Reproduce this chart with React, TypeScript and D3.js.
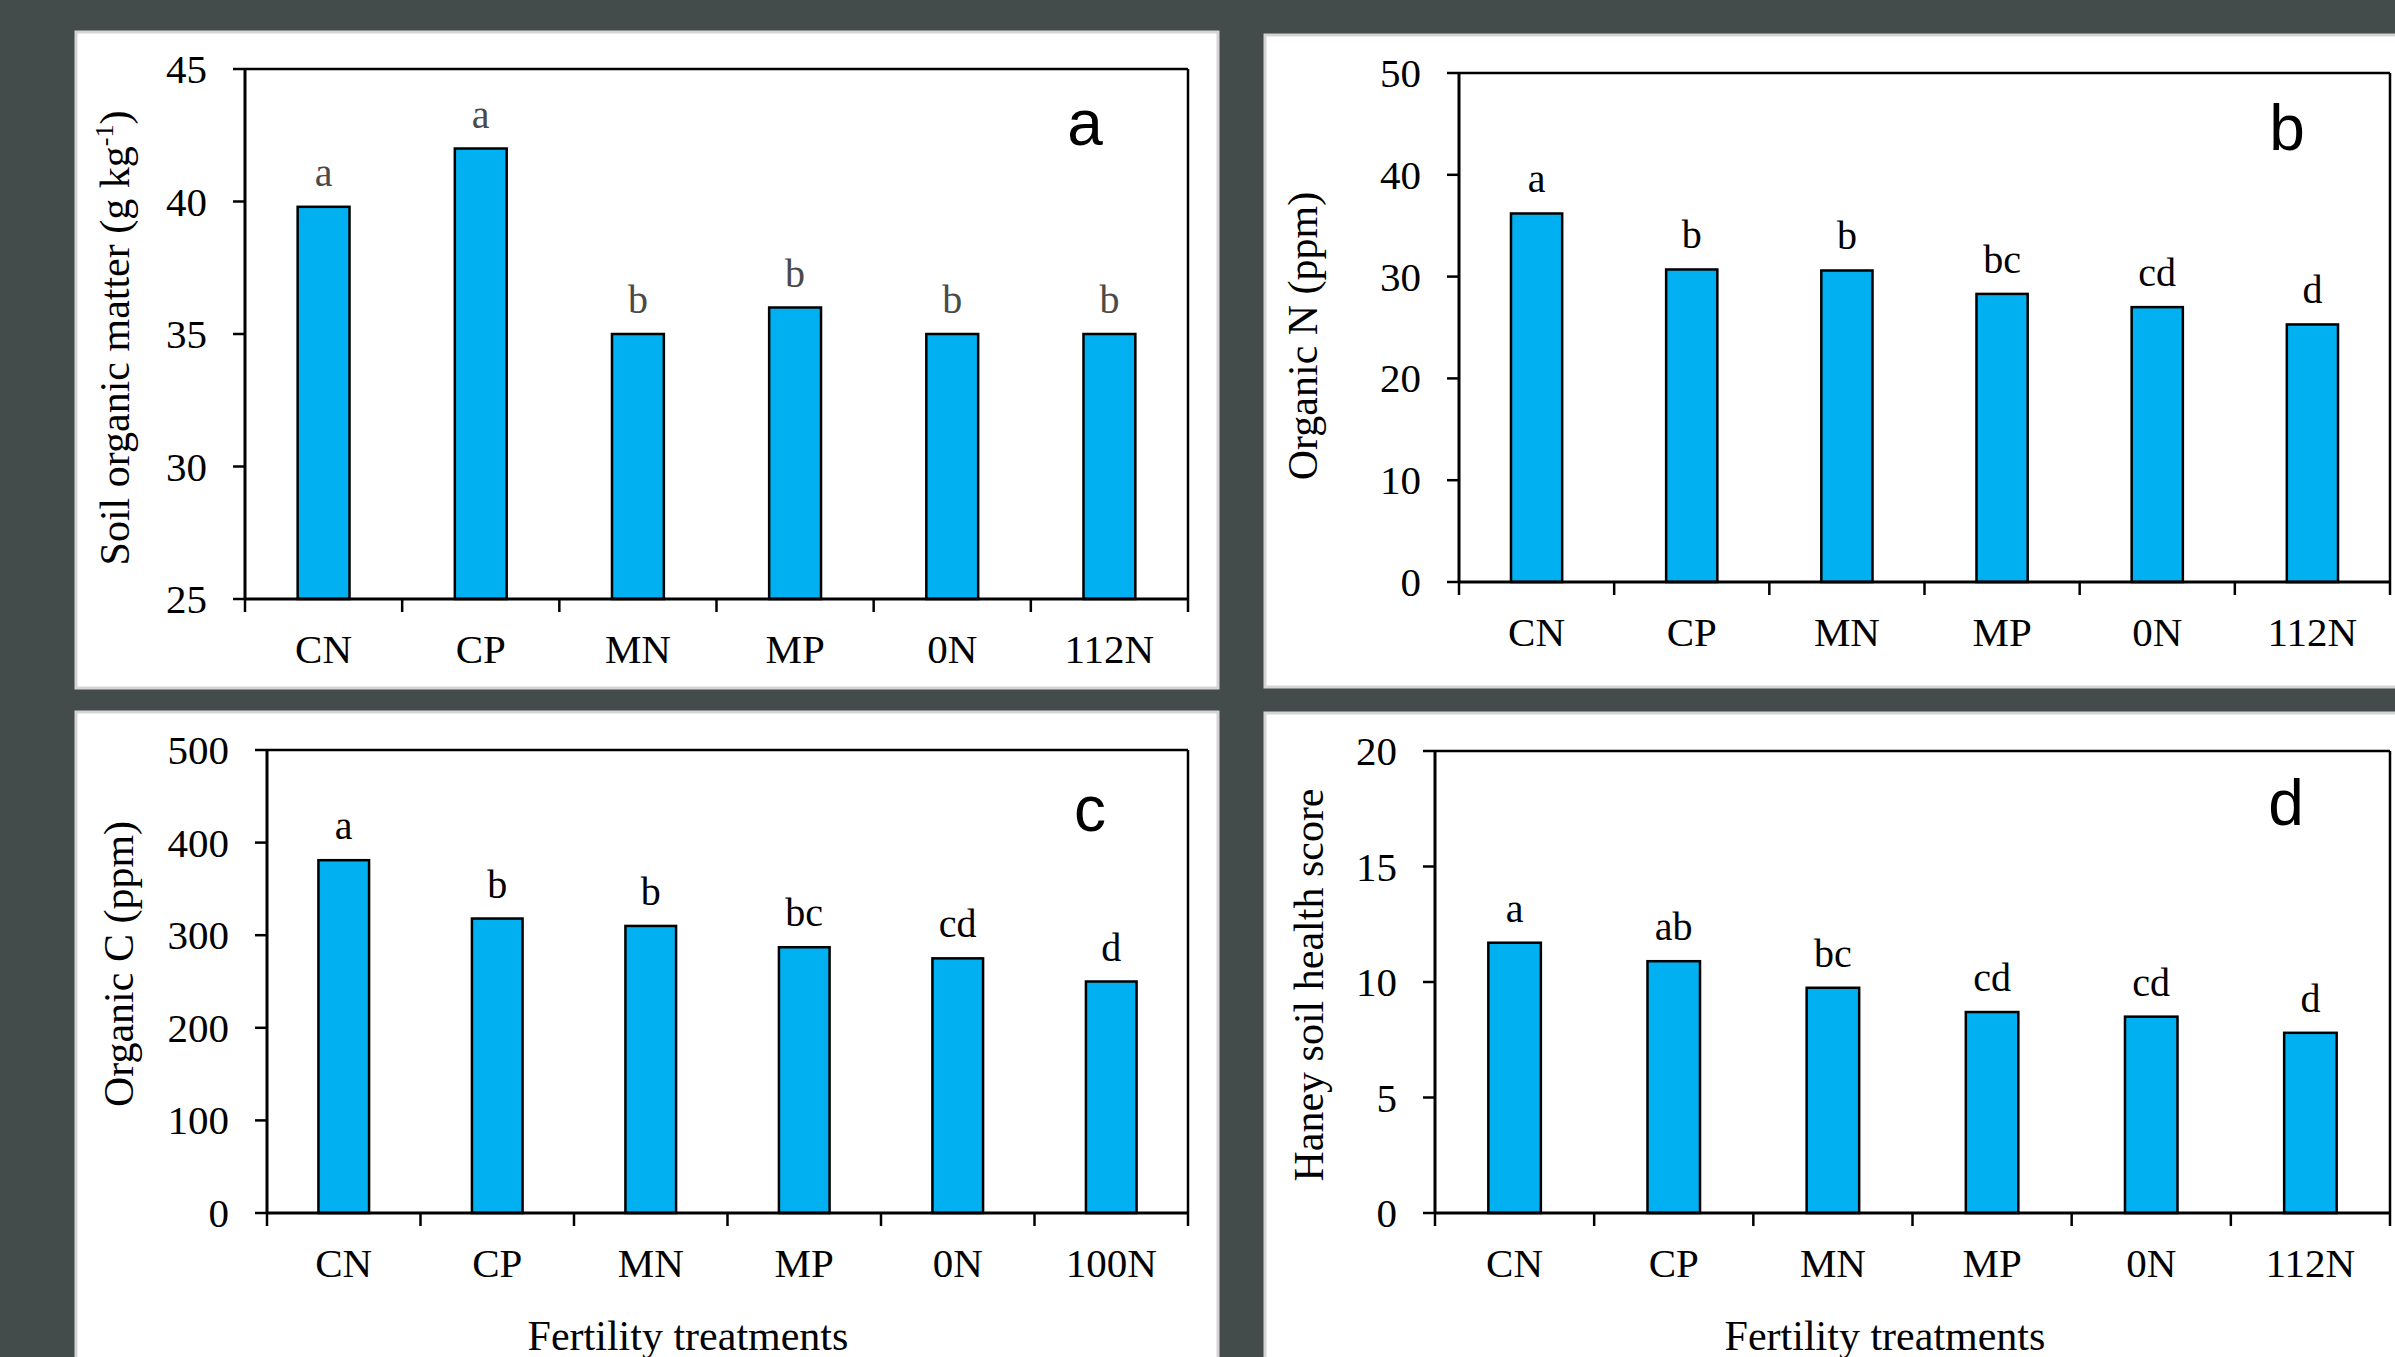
import * as React from 'react'
import * as d3 from 'd3'

const categories = ['CN', 'CP', 'MN', 'MP', '0N', '112N']
const categoriesC = ['CN', 'CP', 'MN', 'MP', '0N', '100N']

const somValues = [39.8, 42.0, 35.0, 36.0, 35.0, 35.0]
const somLetters = ['a', 'a', 'b', 'b', 'b', 'b']
const somTicks = [25, 30, 35, 40, 45]

const orgNValues = [36.2, 30.7, 30.6, 28.3, 27.0, 25.3]
const orgNLetters = ['a', 'b', 'b', 'bc', 'cd', 'd']
const orgNTicks = [0, 10, 20, 30, 40, 50]

const orgCValues = [381, 318, 310, 287, 275, 250]
const orgCLetters = ['a', 'b', 'b', 'bc', 'cd', 'd']
const orgCTicks = [0, 100, 200, 300, 400, 500]

const haneyValues = [11.7, 10.9, 9.75, 8.7, 8.5, 7.8]
const haneyLetters = ['a', 'ab', 'bc', 'cd', 'cd', 'd']
const haneyTicks = [0, 5, 10, 15, 20]

const SERIF = '"Liberation Serif", "Times New Roman", serif'
const SANS = '"Liberation Sans", Arial, sans-serif'
const BAR = '#00b0f0'

const Panel = props => {
  let { box, plot, cats, values, letters, ticks, title, titleX, titleY, tag, tagX, tagY, letterColor, xTitle } = props

  let x = d3.scaleBand()
    .domain(cats)
    .range([plot.left, plot.right])
    .paddingInner(0.67)
    .paddingOuter(0.335)

  let y = d3.scaleLinear()
    .domain([ticks[0], ticks[ticks.length - 1]])
    .range([plot.bottom, plot.top])

  let step = x.step()
  let bounds = d3.range(cats.length + 1).map(i => plot.left + i * step)

  return (
    <g>
      <rect x={box.x} y={box.y} width={box.w} height={box.h} fill="#fff" stroke="#d4d4d4" strokeWidth={3} />

      {values.map((v, i) => (
        <rect key={i} x={x(cats[i])} y={y(v)} width={x.bandwidth()} height={y(ticks[0]) - y(v)}
          fill={BAR} stroke="#000" strokeWidth={2.5} />
      ))}

      {values.map((v, i) => (
        <text key={i} x={x(cats[i]) + x.bandwidth() / 2} y={y(v) - 21} textAnchor="middle"
          fontFamily={SERIF} fontSize={40} fill={letterColor}>{letters[i]}</text>
      ))}

      {/* frame */}
      <line x1={plot.left} x2={plot.right} y1={plot.top} y2={plot.top} stroke="#000" strokeWidth={2.5} />
      <line x1={plot.right} x2={plot.right} y1={plot.top} y2={plot.bottom} stroke="#000" strokeWidth={2.5} />
      <line x1={plot.left} x2={plot.left} y1={plot.top} y2={plot.bottom} stroke="#000" strokeWidth={3} />
      <line x1={plot.left} x2={plot.right} y1={plot.bottom} y2={plot.bottom} stroke="#000" strokeWidth={3} />

      {ticks.map(t => (
        <g key={t}>
          <line x1={plot.left - 12} x2={plot.left} y1={y(t)} y2={y(t)} stroke="#000" strokeWidth={2.5} />
          <text x={plot.left - 38} y={y(t) + 14} textAnchor="end" fontFamily={SERIF} fontSize={41} fill="#000">{t}</text>
        </g>
      ))}

      {bounds.map((b, i) => (
        <line key={i} x1={b} x2={b} y1={plot.bottom} y2={plot.bottom + 13} stroke="#000" strokeWidth={2.5} />
      ))}

      {cats.map(c => (
        <text key={c} x={x(c) + x.bandwidth() / 2} y={plot.bottom + 64} textAnchor="middle"
          fontFamily={SERIF} fontSize={41} fill="#000">{c}</text>
      ))}

      <text transform={`translate(${titleX}, ${titleY}) rotate(-90)`} textAnchor="middle"
        fontFamily={SERIF} fontSize={42} fill="#000">{title}</text>

      <text x={tagX} y={tagY} textAnchor="middle" fontFamily={SANS} fontSize={64} fill="#000">{tag}</text>

      {xTitle && (
        <text x={xTitle.x} y={xTitle.y} textAnchor="middle" fontFamily={SERIF} fontSize={42} fill="#000">Fertility treatments</text>
      )}
    </g>
  )
}

const App = () => {
  const width = 2395
  const height = 1357

  return (
    <svg width={width} height={height} style={{ position: 'absolute', left: 0, top: 0, display: 'block' }}>
      <rect width={width} height={height} fill="#434b4b" />

      <Panel
        box={{ x: 76, y: 32, w: 1142, h: 656 }}
        plot={{ left: 245, top: 69, right: 1188, bottom: 599 }}
        cats={categories} values={somValues} letters={somLetters} ticks={somTicks}
        title={<>Soil organic matter (g kg<tspan dy={-16} fontSize={26}>-1</tspan><tspan dy={16}>)</tspan></>}
        titleX={129} titleY={338}
        tag="a" tagX={1085} tagY={145} letterColor="#4a4a4a"
      />

      <Panel
        box={{ x: 1265, y: 35, w: 1200, h: 652 }}
        plot={{ left: 1459, top: 73, right: 2390, bottom: 582 }}
        cats={categories} values={orgNValues} letters={orgNLetters} ticks={orgNTicks}
        title="Organic N (ppm)" titleX={1317} titleY={336}
        tag="b" tagX={2287} tagY={150} letterColor="#000"
      />

      <Panel
        box={{ x: 76, y: 712, w: 1142, h: 700 }}
        plot={{ left: 267, top: 750, right: 1188, bottom: 1213 }}
        cats={categoriesC} values={orgCValues} letters={orgCLetters} ticks={orgCTicks}
        title="Organic C (ppm)" titleX={133} titleY={964}
        tag="c" tagX={1090} tagY={831} letterColor="#000"
        xTitle={{ x: 688, y: 1350 }}
      />

      <Panel
        box={{ x: 1265, y: 713, w: 1200, h: 700 }}
        plot={{ left: 1435, top: 751, right: 2390, bottom: 1213 }}
        cats={categories} values={haneyValues} letters={haneyLetters} ticks={haneyTicks}
        title="Haney soil health score" titleX={1323} titleY={985}
        tag="d" tagX={2286} tagY={825} letterColor="#000"
        xTitle={{ x: 1885, y: 1350 }}
      />
    </svg>
  )
}

export default App
